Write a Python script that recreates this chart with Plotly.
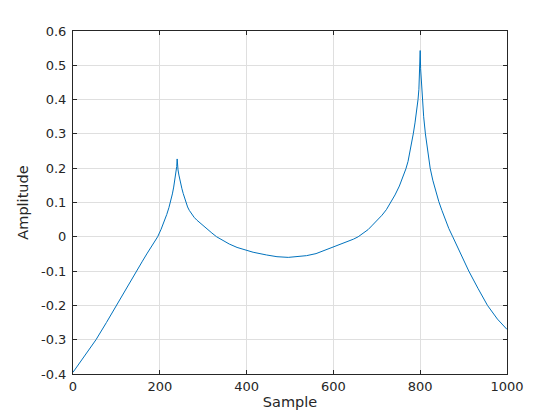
import plotly.graph_objects as go

# Values
samples = [0, 25, 53, 77, 100, 123, 145, 160, 170, 183, 195, 203, 210, 216, 221,
           225, 229, 232, 235, 237, 239, 240,
           241, 242, 244, 246, 248, 251, 254, 257, 260, 264, 268, 273, 279, 285,
           292, 300, 310, 320, 331, 345, 360, 378, 396, 415, 446, 470, 496, 520,
           538, 560, 577, 600, 620, 646, 657, 668, 680, 690, 700, 712, 722, 732,
           742, 752, 760, 767, 772, 776, 780, 784, 788, 792, 795, 797, 799, 800,
           801, 803, 805, 808, 812, 817, 823, 829, 836, 843, 850, 858, 866, 875,
           893, 912, 933, 955, 978, 1000]
amplitude = [-0.395, -0.35, -0.30, -0.25, -0.20, -0.15, -0.10, -0.071, -0.05, -0.025,
             0.0, 0.022, 0.044, 0.065, 0.085, 0.103, 0.125, 0.145, 0.168, 0.186,
             0.205, 0.227,
             0.205, 0.195, 0.18, 0.166, 0.156, 0.140, 0.126, 0.112, 0.099, 0.087,
             0.077, 0.067, 0.057, 0.049, 0.041, 0.032, 0.022, 0.011, 0.0, -0.011,
             -0.021, -0.031, -0.0385, -0.045, -0.053, -0.058, -0.06, -0.058,
             -0.055, -0.049, -0.041, -0.031, -0.021, -0.007, 0.0, 0.009, 0.021,
             0.034, 0.047, 0.063, 0.079, 0.10, 0.122, 0.148, 0.172, 0.198, 0.22,
             0.245, 0.27, 0.30, 0.332, 0.368, 0.40, 0.43, 0.48, 0.543,
             0.49, 0.44, 0.40, 0.35, 0.30, 0.25, 0.20, 0.165, 0.13, 0.102, 0.077,
             0.05, 0.024, 0.0, -0.05, -0.10, -0.15, -0.20, -0.24, -0.27]

x_ticks = [0, 200, 400, 600, 800, 1000]
x_ticktext = ["0", "200", "400", "600", "800", "1000"]
y_ticks = [-0.4, -0.3, -0.2, -0.1, 0, 0.1, 0.2, 0.3, 0.4, 0.5, 0.6]
y_ticktext = ["-0.4", "-0.3", "-0.2", "-0.1", "0", "0.1", "0.2", "0.3", "0.4", "0.5", "0.6"]

fig = go.Figure()
fig.add_trace(go.Scatter(x=samples, y=amplitude, mode="lines",
                         line=dict(color="#0072BD", width=1)))

axis_common = dict(
    showline=True, linecolor="#262626", linewidth=1, mirror="ticks",
    ticks="inside", ticklen=4, tickcolor="#262626", tickwidth=1,
    showgrid=True, gridcolor="#dfdfdf", gridwidth=1, zeroline=False,
    tickfont=dict(family="DejaVu Sans", size=13, color="#262626"),
    automargin=False,
)

fig.update_layout(
    width=560, height=420,
    paper_bgcolor="white", plot_bgcolor="white",
    margin=dict(l=65, r=61, t=23, b=54),
    showlegend=False,
    xaxis=dict(range=[0, 1000], tickvals=x_ticks, ticktext=x_ticktext,
               title=dict(text="Sample", font=dict(family="DejaVu Sans", size=14.5, color="#262626"), standoff=4),
               **axis_common),
    yaxis=dict(range=[-0.4, 0.6], tickvals=y_ticks, ticktext=y_ticktext,
               title=dict(text="Amplitude", font=dict(family="DejaVu Sans", size=14.5, color="#262626"), standoff=8),
               ticklabelstandoff=3,
               **axis_common),
)

fig.write_html("out.html")
